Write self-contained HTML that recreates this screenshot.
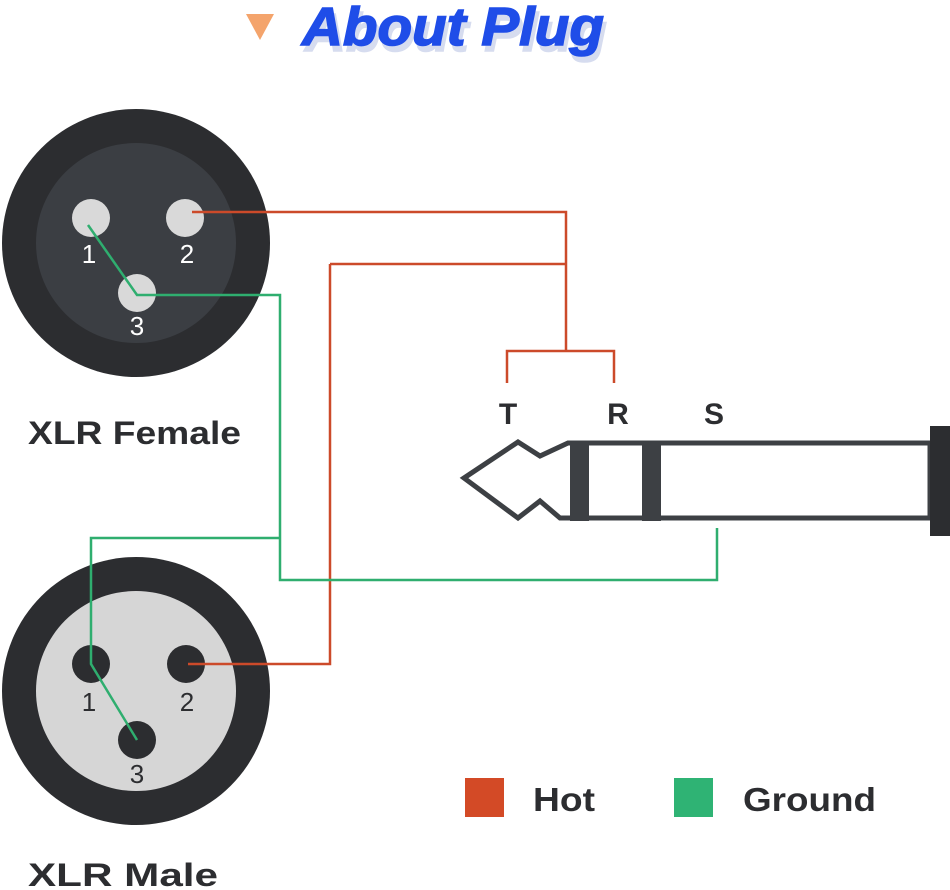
<!DOCTYPE html>
<html><head><meta charset="utf-8"><style>body{margin:0;background:#fff}svg{display:block}</style></head><body>
<svg width="950" height="890" xmlns="http://www.w3.org/2000/svg" font-family="Liberation Sans, sans-serif">
<polygon points="246,14 274,14 260,40" fill="#f4a46c"/>
<text x="302" y="45" font-size="54" font-weight="bold" font-style="italic" fill="#d6dcef" transform="translate(3,6)" textLength="302" lengthAdjust="spacingAndGlyphs" stroke="#d6dcef" stroke-width="1.5">About Plug</text>
<text x="302" y="45" font-size="54" font-weight="bold" font-style="italic" fill="#1f4de8" textLength="302" lengthAdjust="spacingAndGlyphs" stroke="#1f4de8" stroke-width="1.5">About Plug</text>
<circle cx="136" cy="243" r="134" fill="#2c2d30"/>
<circle cx="136" cy="243" r="100" fill="#3b3e43"/>
<circle cx="91" cy="218" r="19" fill="#d9d9d9"/>
<circle cx="185" cy="218" r="19" fill="#d9d9d9"/>
<circle cx="137" cy="293" r="19" fill="#d9d9d9"/>
<g font-size="26" fill="#fff" text-anchor="middle"><text x="89" y="263">1</text><text x="187" y="263">2</text><text x="137" y="335">3</text></g>
<circle cx="136" cy="691" r="134" fill="#2c2d30"/>
<circle cx="136" cy="691" r="100" fill="#d6d6d6"/>
<circle cx="91" cy="664" r="19" fill="#2c2d30"/>
<circle cx="186" cy="664" r="19" fill="#2c2d30"/>
<circle cx="137" cy="740" r="19" fill="#2c2d30"/>
<g font-size="26" fill="#2c2d30" text-anchor="middle"><text x="89" y="711">1</text><text x="187" y="711">2</text><text x="137" y="783">3</text></g>
<text x="28" y="444" font-size="32" font-weight="bold" fill="#2c2d30" textLength="213" lengthAdjust="spacingAndGlyphs">XLR Female</text>
<text x="28" y="886" font-size="32" font-weight="bold" fill="#2c2d30" textLength="190" lengthAdjust="spacingAndGlyphs">XLR Male</text>
<g fill="none" stroke="#cc4a2a" stroke-width="2.5">
<polyline points="192,212 566,212 566,351"/>
<polyline points="330,264 566,264"/>
<polyline points="188,664 330,664 330,264"/>
<polyline points="507,383 507,351 614,351 614,383"/>
</g>
<g fill="none" stroke="#2fae6f" stroke-width="2.5">
<polyline points="88,225 137,295 280,295 280,580 717,580 717,528"/>
<polyline points="280,538 91,538 91,664 137,740"/>
</g>
<g font-size="30" font-weight="bold" fill="#2c2d30" text-anchor="middle"><text x="508" y="424">T</text><text x="618" y="424">R</text><text x="714" y="424">S</text></g>
<polygon points="464,478 518,442 540,456 568,443 930,443 930,518 560,518 540,501 518,518" fill="#fff" stroke="#3d4044" stroke-width="5" stroke-linejoin="miter"/>
<rect x="570" y="441" width="19" height="80" fill="#3d4044"/>
<rect x="642" y="441" width="19" height="80" fill="#3d4044"/>
<rect x="930" y="426" width="20" height="110" fill="#2c2d30"/>
<rect x="465" y="778" width="39" height="39" fill="#d34a26"/>
<text x="533" y="811" font-size="33" font-weight="bold" fill="#2c2d30" textLength="62" lengthAdjust="spacingAndGlyphs">Hot</text>
<rect x="674" y="778" width="39" height="39" fill="#2fb374"/>
<text x="743" y="811" font-size="33" font-weight="bold" fill="#2c2d30" textLength="133" lengthAdjust="spacingAndGlyphs">Ground</text>
</svg>
</body></html>
